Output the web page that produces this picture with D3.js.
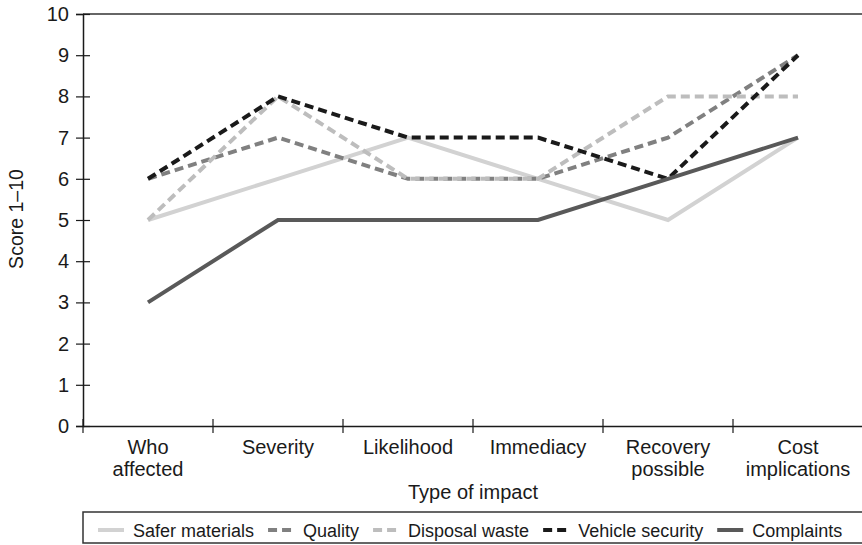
<!DOCTYPE html>
<html>
<head>
<meta charset="utf-8">
<script src="https://cdn.jsdelivr.net/npm/d3@7"></script>
<style>
  body { margin: 0; background: #fff; }
  svg text { font-family: "Liberation Sans", Arial, Helvetica, sans-serif; fill: #1a1a1a; }
</style>
</head>
<body>
<svg id="chart" width="862" height="545"></svg>
<script>
const categories = [["Who", "affected"], ["Severity"], ["Likelihood"], ["Immediacy"], ["Recovery", "possible"], ["Cost", "implications"]];
const seriesNames = ["Safer materials", "Quality", "Disposal waste", "Vehicle security", "Complaints"];
const saferMaterials = [5, 6, 7, 6, 5, 7];
const quality = [6, 7, 6, 6, 7, 9];
const disposalWaste = [5, 8, 6, 6, 8, 8];
const vehicleSecurity = [6, 8, 7, 7, 6, 9];
const complaints = [3, 5, 5, 5, 6, 7];
const yTicks = [0, 1, 2, 3, 4, 5, 6, 7, 8, 9, 10];

const series = [
  { name: seriesNames[0], values: saferMaterials, color: "#d2d2d2", dash: null },
  { name: seriesNames[1], values: quality, color: "#808080", dash: "9,5" },
  { name: seriesNames[2], values: disposalWaste, color: "#bdbdbd", dash: "9,5" },
  { name: seriesNames[3], values: vehicleSecurity, color: "#1a1a1a", dash: "9,5" },
  { name: seriesNames[4], values: complaints, color: "#595959", dash: null }
];

const svg = d3.select("#chart");
const plotLeft = 83, plotRight = 863, plotTop = 14, plotBottom = 426;

const x = d3.scaleBand()
  .domain(d3.range(categories.length))
  .range([plotLeft, plotRight]);
const y = d3.scaleLinear().domain([0, 10]).range([plotBottom, plotTop]);

// top frame line
svg.append("line")
  .attr("x1", plotLeft).attr("x2", plotRight)
  .attr("y1", y(10)).attr("y2", y(10))
  .attr("stroke", "#666").attr("stroke-width", 2);

// y axis
const yAxis = svg.append("g")
  .attr("transform", `translate(${plotLeft},0)`)
  .call(d3.axisLeft(y).tickValues(yTicks).tickSize(7).tickPadding(7));
yAxis.select(".domain").attr("stroke", "#1a1a1a").attr("stroke-width", 1.5);
yAxis.selectAll(".tick line").clone().attr("x2", 7);
yAxis.selectAll(".tick line").attr("stroke", "#1a1a1a").attr("stroke-width", 1.2);
yAxis.selectAll("text").style("font-size", "20px").attr("fill", "#1a1a1a");

// x axis
const xAxis = svg.append("g")
  .attr("transform", `translate(0,${plotBottom})`)
  .call(d3.axisBottom(x).tickSize(0).tickFormat(""));
xAxis.select(".domain").attr("stroke", "#1a1a1a").attr("stroke-width", 1.5);
const edges = d3.range(categories.length).map(i => x(i));
xAxis.selectAll(".edge").data(edges).join("line")
  .attr("x1", d => d).attr("x2", d => d)
  .attr("y1", -7).attr("y2", 7)
  .attr("stroke", "#1a1a1a").attr("stroke-width", 1.2);

// category labels, one text per line so lines don't collide
const catGroups = svg.append("g").selectAll("g").data(categories).join("g")
  .attr("transform", (d, i) => `translate(${x(i) + x.bandwidth() / 2},0)`);
catGroups.selectAll("text").data(d => d).join("text")
  .attr("x", 0)
  .attr("y", (d, k) => 454 + k * 22)
  .attr("text-anchor", "middle")
  .style("font-size", "20px")
  .text(d => d);

svg.append("text")
  .attr("x", 473).attr("y", 499)
  .attr("text-anchor", "middle")
  .style("font-size", "20px")
  .text("Type of impact");

svg.append("text")
  .attr("transform", `translate(23,${219}) rotate(-90)`)
  .attr("text-anchor", "middle")
  .style("font-size", "19.5px")
  .text("Score 1–10");

// lines
const line = d3.line()
  .x((d, i) => x(i) + x.bandwidth() / 2)
  .y(d => y(d));

svg.append("g").selectAll("path").data(series).join("path")
  .attr("d", d => line(d.values))
  .attr("fill", "none")
  .attr("stroke", d => d.color)
  .attr("stroke-width", 4)
  .attr("stroke-dasharray", d => d.dash);

// legend
const legend = svg.append("g");
legend.append("rect")
  .attr("x", plotLeft).attr("y", 512)
  .attr("width", plotRight - plotLeft + 5).attr("height", 31)
  .attr("fill", "none").attr("stroke", "#333").attr("stroke-width", 1.5);

let lx = 98;
series.forEach(s => {
  const g = legend.append("g");
  g.append("line")
    .attr("x1", lx).attr("x2", lx + 26)
    .attr("y1", 530).attr("y2", 530)
    .attr("stroke", s.color).attr("stroke-width", 4)
    .attr("stroke-dasharray", s.dash);
  const t = g.append("text")
    .attr("x", lx + 35).attr("y", 537)
    .style("font-size", "18px")
    .text(s.name);
  lx += 35 + t.node().getComputedTextLength() + 14;
});
</script>
</body>
</html>
